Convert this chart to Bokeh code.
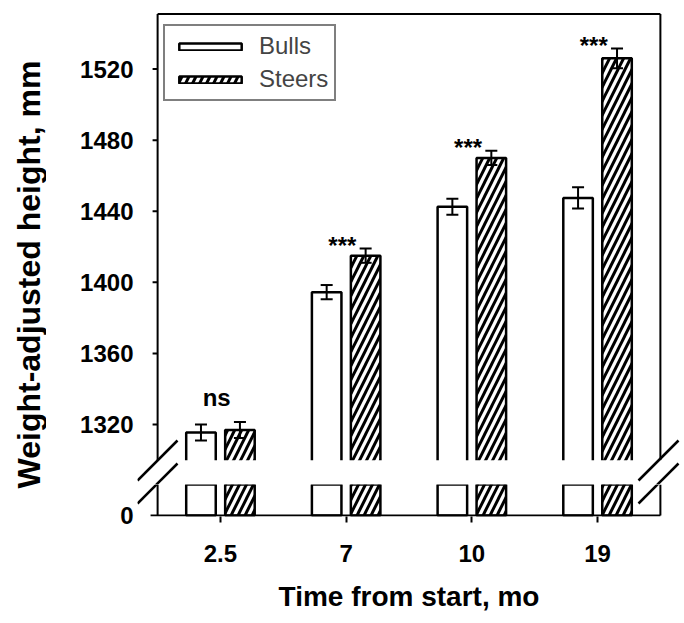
import math
from bokeh.plotting import figure
from bokeh.models import (FactorRange, Range1d, FixedTicker, ColumnDataSource, Whisker, TeeHead,
                          Arrow, Legend, LegendItem, BoxAnnotation)
from bokeh.transform import dodge
from bokeh.layouts import column, row
from bokeh.core.properties import value
from bokeh.embed import file_html
from bokeh.resources import INLINE

# ---------------- data ----------------
times = ["2.5", "7", "10", "19"]
bulls = [1315.5, 1394.5, 1442.5, 1447.5]
bulls_se = [4.5, 4.0, 4.5, 6.0]
steers = [1317.0, 1415.0, 1470.0, 1526.0]
steers_se = [4.5, 4.0, 4.0, 5.5]
signif = ["ns", "***", "***", "***"]
y_ticks = [1320, 1360, 1400, 1440, 1480, 1520]
y_break = 1300      # where the y axis is broken
y_top = 1551        # upper frame line
x_title = "Time from start, mo"
y_title = "Weight-adjusted height, mm"

FONT = "Liberation Sans"
OFF, BW = 0.155, 0.235
PAD = 0.16          # room (in category units) left and right of the plot box for break marks
TICK = 0.04         # 5 px tick length in category units
LAB_W = 46          # width of the strip holding the y title
LEFT = 137 - LAB_W

sig_y = []
for b, bs, s, ss, t in zip(bulls, bulls_se, steers, steers_se, signif):
    m = max(b + bs, s + ss)
    sig_y.append(m + (14 if t == "ns" else 2))

src = ColumnDataSource(dict(
    time=times, bulls=bulls, steers=steers,
    bulls_lo=[v - e for v, e in zip(bulls, bulls_se)],
    bulls_hi=[v + e for v, e in zip(bulls, bulls_se)],
    steers_lo=[v - e for v, e in zip(steers, steers_se)],
    steers_hi=[v + e for v, e in zip(steers, steers_se)],
    sig=signif, sig_y=sig_y))

xr = FactorRange(*times, range_padding=PAD, range_padding_units="absolute")
N = len(times)


def style_tick_labels(ax, size="24px"):
    ax.major_tick_out = 0
    ax.major_tick_in = 0
    ax.minor_tick_out = 0
    ax.minor_tick_in = 0
    ax.axis_line_color = None
    ax.major_label_standoff = 4
    ax.major_label_text_font = FONT
    ax.major_label_text_font_style = "bold"
    ax.major_label_text_font_size = size
    ax.major_label_text_color = "black"


def add_bars(p):
    rb = p.vbar(x=dodge("time", -OFF, range=p.x_range), top="bulls", bottom=0, width=BW,
                source=src, fill_color="white", line_color="black", line_width=2.5)
    rs = p.vbar(x=dodge("time", OFF, range=p.x_range), top="steers", bottom=0, width=BW,
                source=src, fill_color="white", line_color="black", line_width=2.5,
                hatch_pattern="/", hatch_color="black", hatch_weight=3, hatch_scale=14)
    return rb, rs


def add_breaks(p, dy):
    # break marks, in px relative to the lower-left corner of the top panel's frame
    marks = [((0, 4), (40, 44)), ((0, -19), (40, 21)),
             ((501, 4), (541, 44)), ((501, -19), (541, 21))]
    for (x0, y0), (x1, y1) in marks:
        p.add_layout(Arrow(start=None, end=None, x_start=x0, y_start=y0 + dy,
                           x_end=x1, y_end=y1 + dy, start_units="screen", end_units="screen",
                           line_color="black", line_width=2.5))


# ---------------- top panel ----------------
top = figure(x_range=xr, y_range=Range1d(1286.3, 1551.8), frame_width=543, frame_height=472,
             min_border_left=LEFT, min_border_right=2, min_border_top=12,
             min_border_bottom=0, x_axis_location=None, toolbar_location=None,
             output_backend="svg", outline_line_color=None, background_fill_color="white",
             border_fill_color="white")
top.grid.visible = False
ya = top.yaxis[0]
ya.ticker = FixedTicker(ticks=y_ticks)
style_tick_labels(ya)

rb, rs = add_bars(top)

# box lines (axis lines broken at y_break) and ticks
top.segment(x0=[0, N, 0], y0=[y_break, y_break, y_top], x1=[0, N, N], y1=[y_top, y_top, y_top],
            line_color="black", line_width=2)
top.segment(x0=[-TICK] * len(y_ticks), y0=y_ticks, x1=[0] * len(y_ticks), y1=y_ticks,
            line_color="black", line_width=2)

for lo, hi, d in (("bulls_lo", "bulls_hi", -OFF), ("steers_lo", "steers_hi", OFF)):
    top.add_layout(Whisker(base=dodge("time", d, range=top.x_range), lower=lo, upper=hi,
                           source=src, line_color="black", line_width=2, level="annotation",
                           upper_head=TeeHead(size=12, line_width=2, line_color="black"),
                           lower_head=TeeHead(size=12, line_width=2, line_color="black")))

top.text(x=dodge("time", -0.03, range=top.x_range), y="sig_y", text="sig", source=src,
         text_font=value(FONT), text_font_style="bold", text_font_size="24px",
         text_align="center", text_baseline="alphabetic", text_color="black")

# gap of the broken axis
top.add_layout(BoxAnnotation(top=y_break, fill_color="white", fill_alpha=1.0,
                             line_color=None, level="annotation"))
add_breaks(top, 0)

legend = Legend(items=[LegendItem(label="Bulls", renderers=[rb]),
                       LegendItem(label="Steers", renderers=[rs])],
                location=(26, 383), border_line_color="black", border_line_width=2,
                background_fill_color="white", label_text_font=FONT,
                label_text_font_size="24px", glyph_width=78, glyph_height=9,
                label_standoff=10, padding=6, spacing=5, label_height=26, margin=0)
top.add_layout(legend)

# ---------------- bottom stub panel ----------------
bot = figure(x_range=xr, y_range=Range1d(-1, 31), frame_width=543, frame_height=32,
             min_border_left=LEFT, min_border_right=2, min_border_top=0,
             min_border_bottom=0, toolbar_location=None, output_backend="svg",
             outline_line_color=None, background_fill_color="white", border_fill_color="white")
bot.grid.visible = False
yb = bot.yaxis[0]
yb.ticker = FixedTicker(ticks=[0])
style_tick_labels(yb)

add_bars(bot)
bot.segment(x0=[0, N, -0.056], y0=[0, 0, 0], x1=[0, N, N], y1=[31, 31, 0],
            line_color="black", line_width=2)

xa = bot.xaxis[0]
style_tick_labels(xa)
xa.major_tick_out = 6
xa.major_tick_line_width = 2
xa.major_label_standoff = 22
xa.axis_label = x_title
xa.axis_label_standoff = 16
xa.axis_label_text_font = FONT
xa.axis_label_text_font_style = "bold"
xa.axis_label_text_font_size = "28px"
xa.axis_label_text_color = "black"
add_breaks(bot, 32)

# ---------------- strip with the y title ----------------
LAB_H = 600
lab = figure(x_range=Range1d(0, LAB_W), y_range=Range1d(0, LAB_H), frame_width=LAB_W,
             frame_height=LAB_H, min_border=0, x_axis_location=None, y_axis_location=None,
             toolbar_location=None, output_backend="svg", outline_line_color=None,
             background_fill_color="white", border_fill_color="white")
lab.grid.visible = False
lab.text(x=[28], y=[LAB_H - 274], text=[y_title], angle=math.pi / 2,
         text_font=value(FONT), text_font_style="bold", text_font_size="32px",
         text_align="center", text_baseline="middle", text_color="black")

layout = row(lab, column(top, bot))
open("out.html", "w").write(file_html(layout, INLINE))
